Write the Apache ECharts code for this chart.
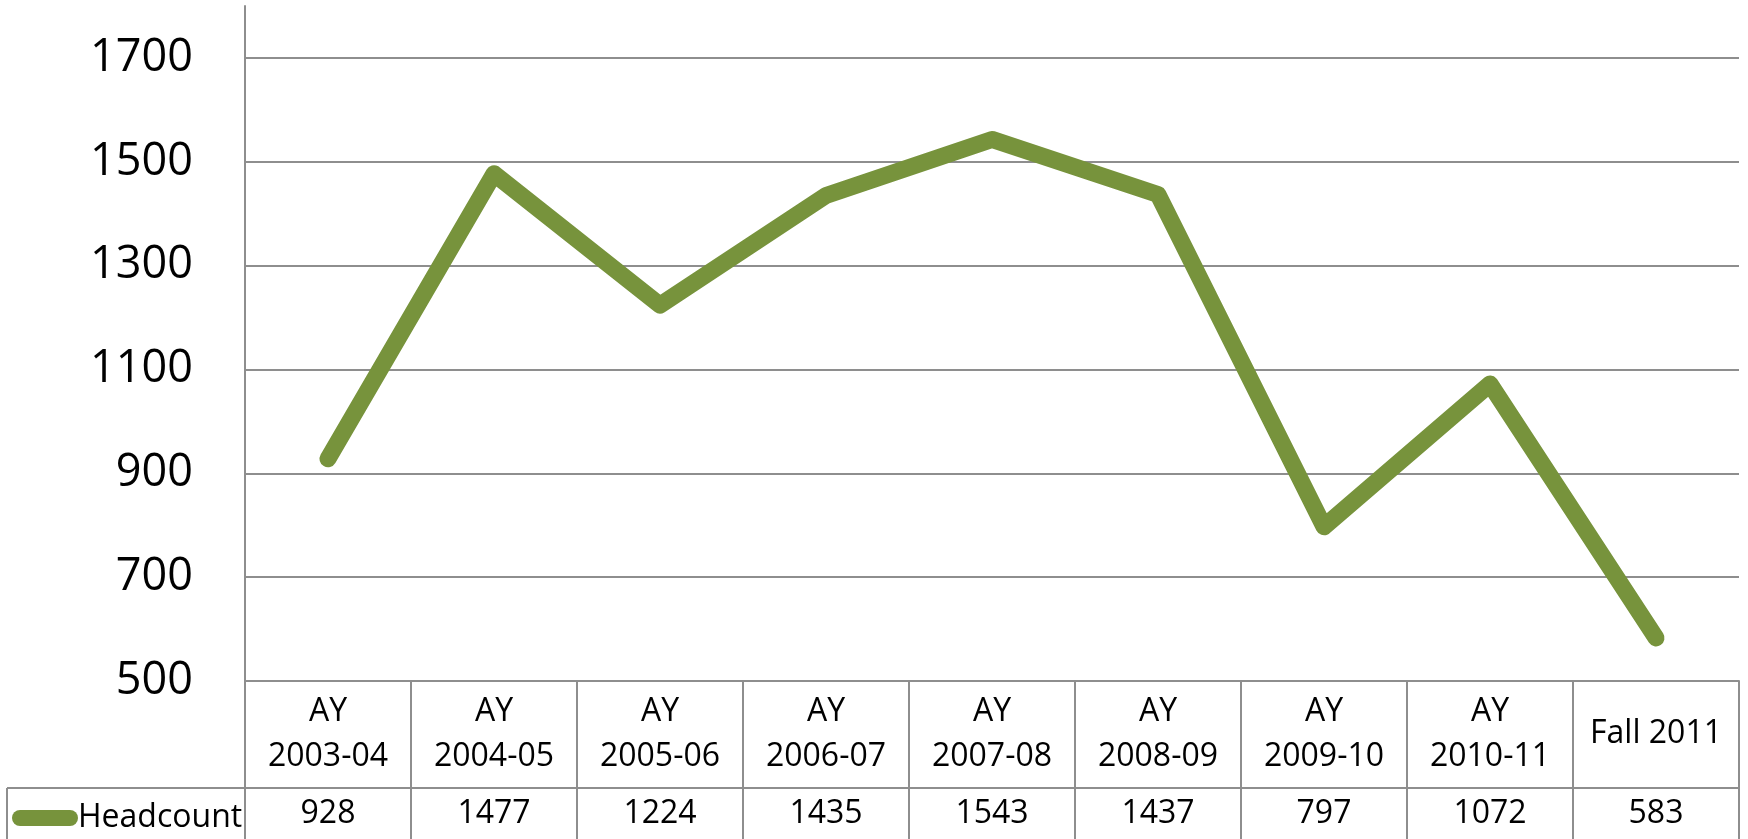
<!DOCTYPE html>
<html>
<head>
<meta charset="utf-8">
<title>Headcount</title>
<script src="https://cdn.jsdelivr.net/npm/echarts@6/dist/echarts.min.js"></script>
<style>
  html, body { margin: 0; padding: 0; background: #fff; }
  #chart { width: 1748px; height: 839px; }
</style>
</head>
<body>
<div id="chart"></div>
<script>
// categories (header row of the data table)
const categories = [
  "AY\n2003-04", "AY\n2004-05", "AY\n2005-06", "AY\n2006-07", "AY\n2007-08",
  "AY\n2008-09", "AY\n2009-10", "AY\n2010-11", "Fall 2011"
];
// headcount per period
const headcount = [928, 1477, 1224, 1435, 1543, 1437, 797, 1072, 583];
const seriesName = "Headcount";

// y axis range
const yMin = 500;
const yMax = 1800;
const yStep = 200;

const gridColor = "#8e8e8e";
const lineColor = "#77933c";
const font = "Open Sans";

const chart = echarts.init(document.getElementById("chart"));

const option = {
  animation: false,
  textStyle: { fontFamily: font, color: "#000" },
  grid: { left: 245, right: 9, top: 6, bottom: 158 },
  legend: {
    data: [seriesName],
    left: 7,
    top: 797,
    itemWidth: 66,
    itemHeight: 16,
    icon: "path://M8,0 H58 A8,8 0 0 1 58,16 H8 A8,8 0 0 1 8,0 Z",
    textStyle: { fontFamily: font, fontSize: 32, color: "#000", padding: [0, 0, 0, -5] }
  },
  xAxis: [
    {
      type: "category",
      data: categories,
      boundaryGap: true,
      axisLine: { show: true, lineStyle: { color: gridColor, width: 2 } },
      axisTick: { show: true, length: 107, lineStyle: { color: gridColor, width: 2 } },
      axisLabel: {
        interval: 0,
        fontFamily: font,
        fontSize: 32,
        lineHeight: 45,
        color: "#000",
        margin: 53,
        verticalAlign: "middle"
      }
    },
    {
      type: "category",
      data: categories,
      position: "bottom",
      offset: 107,
      boundaryGap: true,
      axisLine: { show: true, lineStyle: { color: gridColor, width: 2 } },
      axisTick: { show: true, length: 60, lineStyle: { color: gridColor, width: 2 } },
      axisLabel: {
        interval: 0,
        fontFamily: font,
        fontSize: 32,
        color: "#000",
        margin: 26,
        verticalAlign: "middle",
        formatter: (v, i) => String(headcount[i])
      }
    }
  ],
  yAxis: {
    type: "value",
    min: yMin,
    max: yMax,
    interval: yStep,
    axisLine: { show: true, lineStyle: { color: gridColor, width: 2 } },
    axisTick: { show: false },
    axisLabel: {
      fontFamily: font,
      fontSize: 45,
      color: "#000",
      margin: 52,
      showMaxLabel: false,
      formatter: (v) => String(v)
    },
    splitLine: {
      show: true,
      showMaxLine: false,
      lineStyle: { color: gridColor, width: 2 }
    }
  },
  // table borders left of the plot
  graphic: [
    { type: "line", shape: { x1: 7, y1: 788, x2: 245, y2: 788 }, style: { stroke: gridColor, lineWidth: 2 } },
    { type: "line", shape: { x1: 7, y1: 788, x2: 7, y2: 850 }, style: { stroke: gridColor, lineWidth: 2 } }
  ],
  series: [
    {
      name: seriesName,
      type: "line",
      data: headcount,
      showSymbol: false,
      symbol: "none",
      color: lineColor,
      lineStyle: { color: lineColor, width: 17, cap: "round", join: "round" }
    }
  ]
};

chart.setOption(option);
</script>
</body>
</html>
